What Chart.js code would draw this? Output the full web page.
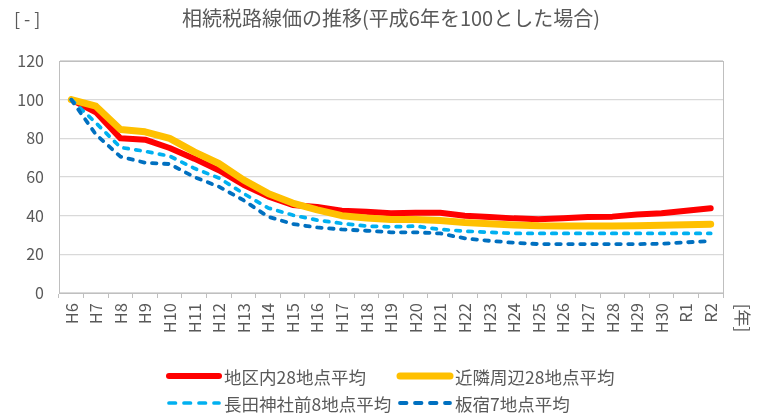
<!DOCTYPE html>
<html lang="ja">
<head>
<meta charset="utf-8">
<title>相続税路線価の推移</title>
<script src="https://cdn.jsdelivr.net/npm/chart.js@4/dist/chart.umd.min.js"></script>
<style>
  html, body { margin: 0; padding: 0; background: #ffffff; }
  #wrap { position: relative; width: 768px; height: 416px; }
</style>
</head>
<body>
<div id="wrap"><canvas id="chart" width="768" height="416"></canvas></div>
<script>
// 年次（平成6年～令和2年）
const years = ['H6','H7','H8','H9','H10','H11','H12','H13','H14','H15','H16','H17','H18','H19','H20',
               'H21','H22','H23','H24','H25','H26','H27','H28','H29','H30','R1','R2'];

// 平成6年を100とした指数
const chikuNai28 = [100, 93.5, 80, 79.3, 75, 69.5, 63.5, 56, 50, 45.5, 44.5, 42.5, 42, 41.3, 41.5,
                    41.5, 40, 39.3, 38.6, 38.2, 38.7, 39.3, 39.5, 40.6, 41.3, 42.5, 43.8];
const kinrinShuhen28 = [100, 96.6, 84.6, 83.4, 80, 73, 67, 58.5, 51.5, 46.5, 43, 40, 38.8, 38, 38,
                        37.5, 36.5, 35.8, 35.2, 34.8, 34.7, 34.7, 34.7, 34.8, 35, 35.3, 35.6];
const nagataJinja8 = [100, 88, 75.3, 73.3, 70.8, 64.5, 59.5, 51.5, 44, 40.3, 37.7, 36, 34.6, 34.2, 34.6,
                      32.9, 32, 31.4, 30.8, 30.8, 30.8, 30.8, 30.8, 30.8, 30.8, 30.8, 30.8];
const itayado7 = [100, 82, 70.5, 67.4, 66.7, 60, 55, 48, 39.5, 35.7, 33.9, 32.9, 32.2, 31.4, 31.4,
                  30.8, 28.3, 27, 26, 25.3, 25.3, 25.3, 25.3, 25.3, 25.5, 26.2, 26.9];

// 縦軸の目盛
const yTicks = [0, 20, 40, 60, 80, 100, 120];

const seriesNames = ['地区内28地点平均', '近隣周辺28地点平均', '長田神社前8地点平均', '板宿7地点平均'];

const FONT = '"Noto Sans CJK JP", "Noto Sans", sans-serif';
const TEXT = '#595959';

function lineSet(label, data, color, width, dash, order) {
  return {
    label, data,
    borderColor: color,
    backgroundColor: color,
    borderWidth: width,
    borderDash: dash,
    borderCapStyle: 'round',
    borderJoinStyle: 'round',
    pointRadius: 0,
    pointHoverRadius: 0,
    tension: 0,
    fill: false,
    order
  };
}

// 凡例（2列×2段）、単位ラベル、プロット枠
const extras = {
  id: 'extras',
  afterDraw(chart) {
    const { ctx, chartArea: a } = chart;
    ctx.save();
    // プロット枠
    ctx.strokeStyle = '#bfbfbf';
    ctx.lineWidth = 1;
    ctx.strokeRect(a.left + 0.5, a.top + 0.5, a.right - a.left, a.bottom - a.top);

    // 縦軸単位
    ctx.fillStyle = TEXT;
    ctx.font = '18px ' + FONT;
    ctx.textBaseline = 'middle';
    ctx.textAlign = 'left';
    ctx.letterSpacing = '4px';
    ctx.fillText('[-]', 14, 19);
    ctx.letterSpacing = '0px';

    // 横軸単位（回転表示）
    ctx.save();
    ctx.translate(742, 318);
    ctx.rotate(Math.PI / 2);
    ctx.textAlign = 'center';
    ctx.font = '17px ' + FONT;
    ctx.fillText('[年]', 0, 0);
    ctx.restore();

    // 凡例
    const cols = [167, 398];
    const rows = [376, 403];
    chart.data.datasets.forEach((ds, i) => {
      const x = cols[i % 2];
      const y = rows[Math.floor(i / 2)];
      ctx.save();
      ctx.strokeStyle = ds.borderColor;
      ctx.lineWidth = ds.borderWidth;
      ctx.lineCap = 'round';
      ctx.setLineDash(ds.borderDash.length ? [6.5, 8.5] : []);
      ctx.beginPath();
      ctx.moveTo(x + 2, y);
      ctx.lineTo(x + 52, y);
      ctx.stroke();
      ctx.restore();
      ctx.fillStyle = TEXT;
      ctx.font = '17.5px ' + FONT;
      ctx.textAlign = 'left';
      ctx.textBaseline = 'middle';
      ctx.fillText(ds.label, x + 57, y + 1);
    });
    ctx.restore();
  }
};

new Chart(document.getElementById('chart'), {
  type: 'line',
  data: {
    labels: years,
    datasets: [
      lineSet(seriesNames[0], chikuNai28, '#ff0000', 6, [], 4),
      lineSet(seriesNames[1], kinrinShuhen28, '#ffc000', 7, [], 3),
      lineSet(seriesNames[2], nagataJinja8, '#00b0f0', 3.7, [4.5, 7.5], 2),
      lineSet(seriesNames[3], itayado7, '#0070c0', 3.8, [4.5, 7.5], 1)
    ]
  },
  options: {
    responsive: false,
    animation: false,
    events: [],
    layout: { padding: { top: 0, right: 45, bottom: 0, left: 0 } },
    plugins: {
      legend: { display: false },
      tooltip: { enabled: false },
      title: {
        display: true,
        fullSize: false,
        text: '相続税路線価の推移(平成6年を100とした場合)',
        color: TEXT,
        font: { family: FONT, size: 20, weight: 'normal' },
        padding: { top: 6, bottom: 31 }
      }
    },
    scales: {
      x: {
        type: 'category',
        offset: true,
        grid: {
          offset: true,
          drawOnChartArea: false,
          drawTicks: true,
          tickLength: 5,
          color: '#bfbfbf'
        },
        border: { display: true, color: '#bfbfbf', width: 1 },
        ticks: {
          color: TEXT,
          font: { family: FONT, size: 16.5 },
          minRotation: 90,
          maxRotation: 90,
          autoSkip: false,
          padding: 5
        },
        afterFit(scale) { scale.height = 123; }
      },
      y: {
        min: 0,
        max: 120,
        afterBuildTicks(scale) { scale.ticks = yTicks.map(v => ({ value: v })); },
        grid: { color: '#d9d9d9', lineWidth: 1.3, drawTicks: false },
        border: { display: true, color: '#bfbfbf', width: 1 },
        ticks: {
          color: TEXT,
          font: { family: FONT, size: 16 },
          padding: 15
        },
        afterFit(scale) { scale.width = 59; }
      }
    }
  },
  plugins: [extras]
});
</script>
</body>
</html>
